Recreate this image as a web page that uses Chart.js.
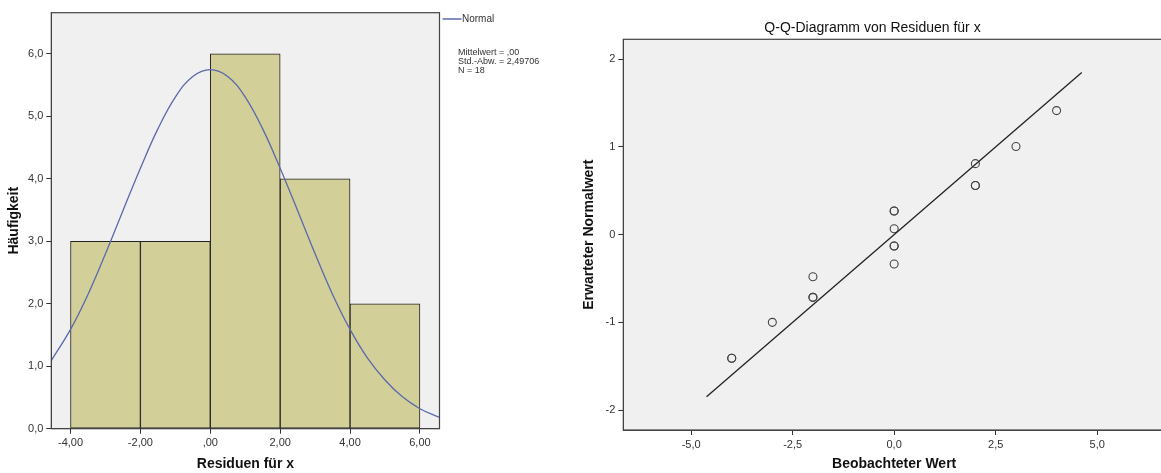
<!DOCTYPE html>
<html>
<head>
<meta charset="utf-8">
<script src="https://cdn.jsdelivr.net/npm/chart.js@4.4.1/dist/chart.umd.min.js"></script>
<style>
  html, body { margin: 0; padding: 0; background: #fff; overflow: hidden; width: 1161px; height: 473px; }
  #histo { position: absolute; left: 0; top: 0; }
  #qq { position: absolute; left: 580px; top: 0; }
</style>
</head>
<body>
<canvas id="histo" width="580" height="473"></canvas>
<canvas id="qq" width="600" height="473"></canvas>
<script>
// Histogramm
const binMitte = [-3, -1, 1, 3, 5];
const haeufigkeit = [3, 3, 6, 4, 2];
const normalX = [-4.55, -4, -3.5, -3, -2.5, -2, -1.5, -1, -0.5, 0, 0.5, 1, 1.5, 2, 2.5, 3, 3.5, 4, 4.5, 5, 5.5, 6, 6.56];
const normalY = [1.09, 1.59, 2.15, 2.8, 3.49, 4.17, 4.8, 5.31, 5.64, 5.75, 5.64, 5.31, 4.8, 4.17, 3.49, 2.8, 2.15, 1.59, 1.13, 0.78, 0.51, 0.32, 0.18];
const histXTicks = [-4, -2, 0, 2, 4, 6];
const histXLabels = ["-4,00", "-2,00", ",00", "2,00", "4,00", "6,00"];
const histYTicks = [0, 1, 2, 3, 4, 5, 6];
const histYLabels = ["0,0", "1,0", "2,0", "3,0", "4,0", "5,0", "6,0"];
const legendeText = "Normal";
const statZeilen = ["Mittelwert = ,00", "Std.-Abw. = 2,49706", "N = 18"];

// Q-Q-Diagramm
const beobachtet = [-4, -4, -3, -2, -2, -2, 0, 0, 0, 0, 0, 0, 2, 2, 2, 3, 4];
const erwartet = [-1.41, -1.41, -1.0, -0.48, -0.715, -0.715, 0.27, 0.27, 0.068, -0.13, -0.13, -0.335, 0.81, 0.56, 0.56, 1.005, 1.415];
const qqLinieX = [-4.62, 4.62];
const qqLinieY = [-1.85, 1.85];
const qqXTicks = [-5, -2.5, 0, 2.5, 5];
const qqXLabels = ["-5,0", "-2,5", "0,0", "2,5", "5,0"];
const qqYTicks = [-2, -1, 0, 1, 2];
const qqYLabels = ["-2", "-1", "0", "1", "2"];

Chart.defaults.font.family = "'Liberation Sans', Arial, sans-serif";
Chart.defaults.color = "#333";
Chart.defaults.animation = false;

const label = (werte, texte) => (v) => {
  const i = werte.findIndex((w) => Math.abs(w - v) < 1e-6);
  return i < 0 ? "" : texte[i];
};

const rahmen = {
  id: "rahmen",
  beforeDraw(chart) {
    const { ctx, chartArea: a } = chart;
    ctx.save();
    ctx.fillStyle = "#f0f0f0";
    ctx.fillRect(a.left, a.top, a.width, a.height);
    ctx.restore();
  },
  afterDraw(chart) {
    const { ctx, chartArea: a } = chart;
    ctx.save();
    ctx.strokeStyle = "#444";
    ctx.lineWidth = 1.2;
    ctx.strokeRect(a.left, a.top, a.width, a.height);
    ctx.restore();
  },
};

const legende = {
  id: "legende",
  afterDraw(chart) {
    const { ctx, chartArea: a } = chart;
    const x0 = a.right;
    ctx.save();
    ctx.strokeStyle = "#5a68ad";
    ctx.lineWidth = 1.5;
    ctx.beginPath();
    ctx.moveTo(x0 + 3, 19);
    ctx.lineTo(x0 + 22, 19);
    ctx.stroke();
    ctx.fillStyle = "#333";
    ctx.font = "10px 'Liberation Sans', Arial, sans-serif";
    ctx.textBaseline = "middle";
    ctx.fillText(legendeText, x0 + 22.5, 19.5);
    ctx.font = "9px 'Liberation Sans', Arial, sans-serif";
    statZeilen.forEach((z, i) => ctx.fillText(z, x0 + 18.5, 53 + i * 9));
    ctx.restore();
  },
};

const achse = (ticks, texte, min, max, step, titel, extra) =>
  Object.assign({
    type: "linear",
    min: min,
    max: max,
    offset: false,
    grid: { offset: false, drawOnChartArea: false, drawTicks: true, tickLength: 5, tickColor: "#333", color: "#333" },
    border: { display: true, color: "#444" },
    ticks: { stepSize: step, includeBounds: false, padding: 3, color: "#333", font: { size: 11 }, callback: label(ticks, texte) },
    title: { display: true, text: titel, color: "#111", font: { size: 14, weight: "bold" }, padding: { top: 0, bottom: 0 } },
  }, extra);

const histY = achse(histYTicks, histYLabels, 0, 6.66, 1, "Häufigkeit", {
  afterFit: (s) => { s.width = 51.3; },
});
histY.title.padding = { top: 5.6, bottom: 0 };

new Chart(document.getElementById("histo"), {
  type: "bar",
  data: {
    datasets: [
      {
        type: "line",
        label: legendeText,
        data: normalX.map((x, i) => ({ x: x, y: normalY[i] })),
        borderColor: "#5a68ad",
        borderWidth: 1.3,
        pointRadius: 0,
        tension: 0.4,
        fill: false,
        order: 0,
      },
      {
        type: "bar",
        label: "Häufigkeit",
        data: binMitte.map((x, i) => ({ x: x, y: haeufigkeit[i] })),
        backgroundColor: "#d3cf98",
        borderColor: "#222",
        borderWidth: 1,
        borderSkipped: false,
        barPercentage: 1,
        categoryPercentage: 1,
        order: 1,
      },
    ],
  },
  options: {
    responsive: false,
    layout: { padding: { top: 12.7, right: 140.5, bottom: 0, left: 0 } },
    plugins: { legend: { display: false }, tooltip: { enabled: false } },
    scales: {
      x: achse(histXTicks, histXLabels, -4.55, 6.56, 2, "Residuen für x", {
        afterFit: (s) => { s.height = 44.3; },
      }),
      y: histY,
    },
  },
  plugins: [rahmen, legende],
});

const qqY = achse(qqYTicks, qqYLabels, -2.228, 2.228, 1, "Erwarteter Normalwert", {
  afterFit: (s) => { s.width = 43.3; },
});
qqY.title.padding = { top: 1, bottom: 0 };

new Chart(document.getElementById("qq"), {
  type: "scatter",
  data: {
    datasets: [
      {
        type: "line",
        data: qqLinieX.map((x, i) => ({ x: x, y: qqLinieY[i] })),
        borderColor: "#222",
        borderWidth: 1.3,
        pointRadius: 0,
        fill: false,
      },
      {
        type: "scatter",
        data: beobachtet.map((x, i) => ({ x: x, y: erwartet[i] })),
        pointRadius: 4,
        pointBorderWidth: 1.1,
        borderColor: "#444",
        backgroundColor: "rgba(0,0,0,0)",
      },
    ],
  },
  options: {
    responsive: false,
    layout: { padding: { top: 19.5, right: 15, bottom: 0, left: 0 } },
    plugins: {
      legend: { display: false },
      tooltip: { enabled: false },
      title: {
        display: true,
        text: "Q-Q-Diagramm von Residuen für x",
        color: "#111",
        font: { size: 14, weight: "normal" },
        padding: { top: 0, bottom: 3 },
      },
    },
    scales: {
      x: achse(qqXTicks, qqXLabels, -6.67, 6.67, 2.5, "Beobachteter Wert", {
        afterFit: (s) => { s.height = 43; },
      }),
      y: qqY,
    },
  },
  plugins: [rahmen],
});
</script>
</body>
</html>
